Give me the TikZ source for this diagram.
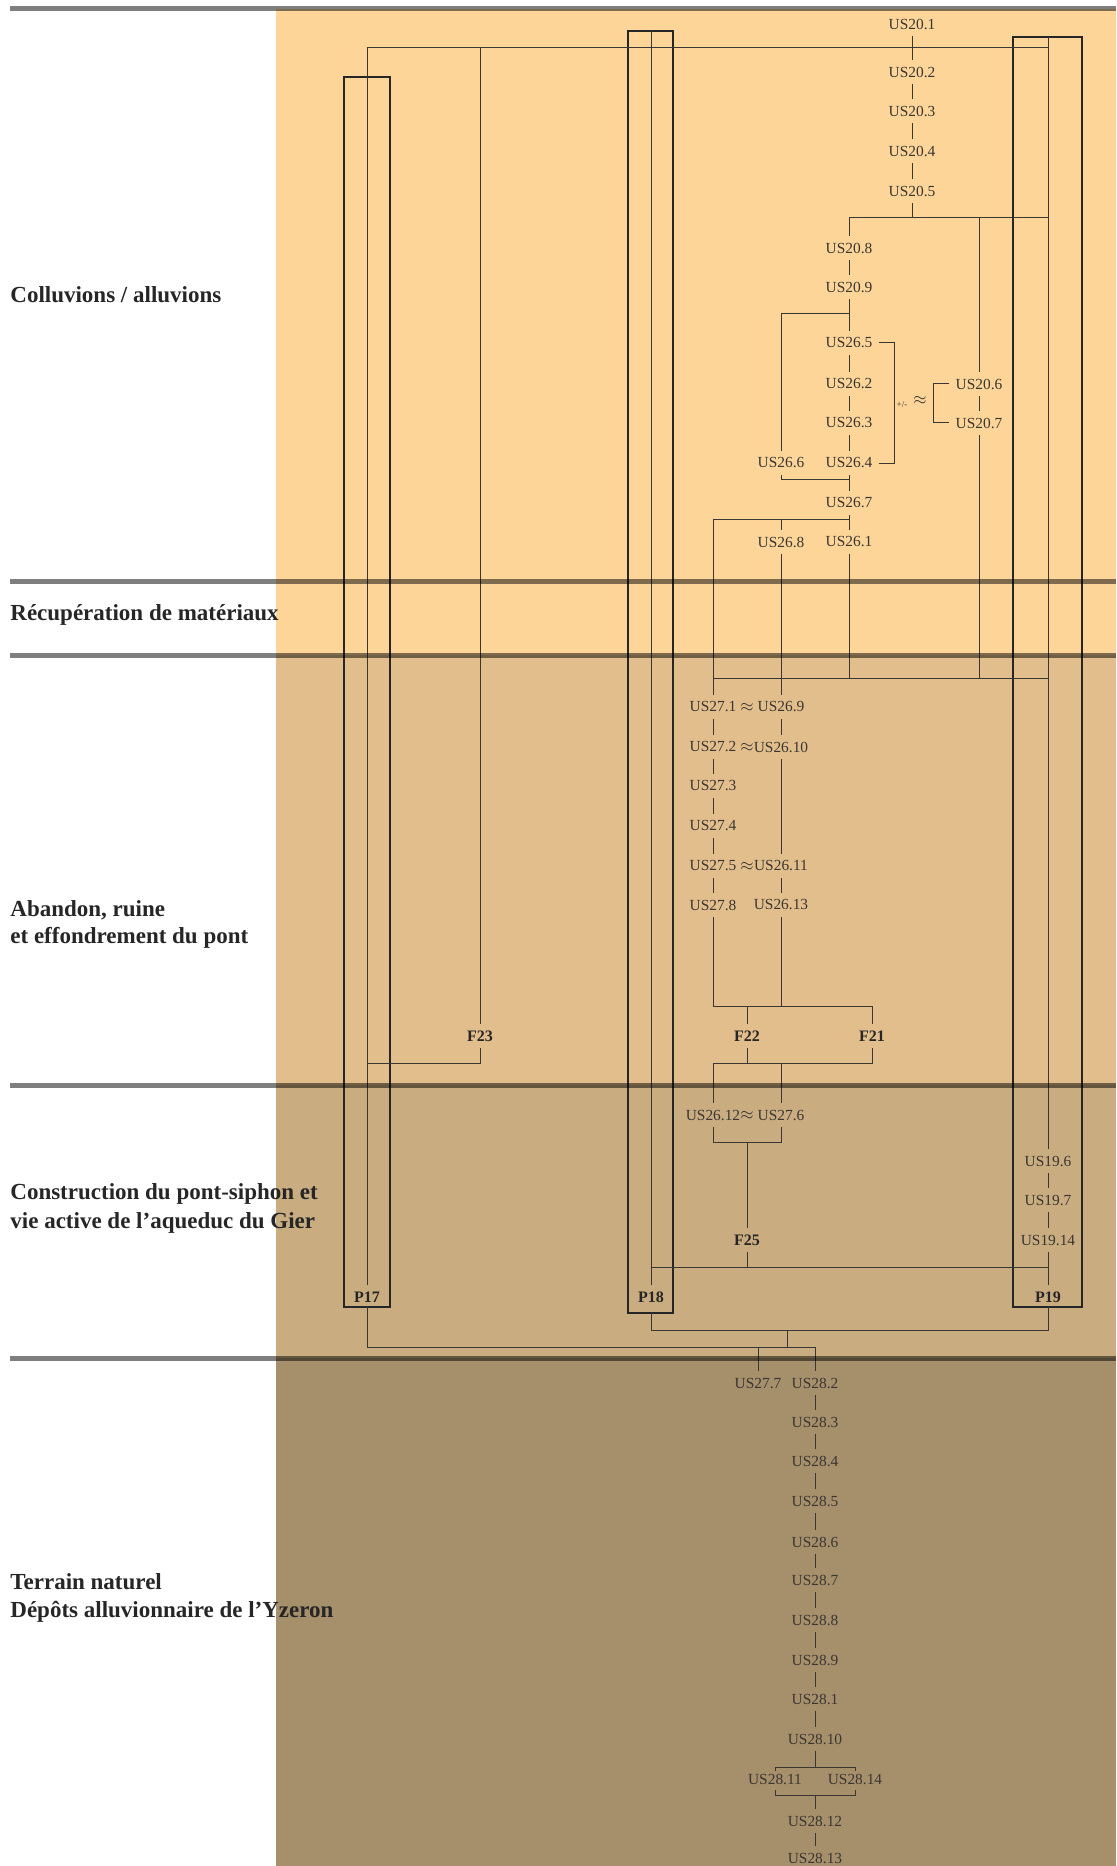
\documentclass[tikz,border=0pt]{standalone}
\usepackage{fontspec}
\setmainfont{Liberation Serif}
\usepackage{xcolor}
\definecolor{bandA}{RGB}{253,213,153}
\definecolor{bandB}{RGB}{225,190,140}
\definecolor{bandC}{RGB}{201,172,128}
\definecolor{bandD}{RGB}{166,143,107}
\definecolor{inkgray}{RGB}{58,54,50}

\begin{document}
\begin{tikzpicture}[x=0.5pt,y=-0.5pt,
  us/.style={font=\fontsize{7.7}{9}\selectfont,text=inkgray,inner sep=1pt,minimum height=11.5pt},
  feat/.style={font=\fontsize{8}{9}\selectfont\bfseries,text=black!85,inner sep=1pt,minimum height=12pt},
  phase/.style={font=\fontsize{11.5}{14}\selectfont\bfseries,text=black!85,anchor=base west,inner sep=0pt},
  sep/.style={line width=2.5pt,black,opacity=0.5},
  pbox/.style={line width=0.9pt,black!85},
  lnk/.style={line width=0.5pt,inkgray}]
\useasboundingbox (0,0) rectangle (1116,1866);
\fill[bandA] (276,9) rectangle (1116,655);
\fill[bandB] (276,655) rectangle (1116,1085);
\fill[bandC] (276,1085) rectangle (1116,1358);
\fill[bandD] (276,1358) rectangle (1116,1866);

\node[phase] (ph1) at (10,303) {Colluvions / alluvions};
\node[phase] (ph2) at (10,620) {Récupération de matériaux};
\node[phase] (ph3a) at (10,916) {Abandon, ruine};
\node[phase] (ph3b) at (10,943) {et effondrement du pont};
\node[phase] (ph4a) at (10,1199) {Construction du pont-siphon et};
\node[phase] (ph4b) at (10,1228) {vie active de l’aqueduc du Gier};
\node[phase] (ph5a) at (10,1589) {Terrain naturel};
\node[phase] (ph5b) at (10,1617) {Dépôts alluvionnaire de l’Yzeron};

\draw[pbox] (344,77) rectangle (390,1307);
\draw[pbox] (628,31) rectangle (673,1313);
\draw[pbox] (1013,37) rectangle (1082,1307);

\node[us] (us201) at (912,24) {US20.1};
\node[us] (us202) at (912,72) {US20.2};
\node[us] (us203) at (912,111) {US20.3};
\node[us] (us204) at (912,151) {US20.4};
\node[us] (us205) at (912,191) {US20.5};
\node[us] (us208) at (849,248) {US20.8};
\node[us] (us209) at (849,287) {US20.9};
\node[us] (us265) at (849,343) {US26.5};
\node[us] (us262) at (849,384) {US26.2};
\node[us] (us263) at (849,423) {US26.3};
\node[us] (us264) at (849,463) {US26.4};
\node[us] (us266) at (781,463) {US26.6};
\node[us] (us206) at (979,384) {US20.6};
\node[us] (us207) at (979,423) {US20.7};
\node[us] (us267) at (849,503) {US26.7};
\node[us] (us268) at (781,542) {US26.8};
\node[us] (us261) at (849,542) {US26.1};
\node[us,font=\fontsize{4.5}{5}\selectfont] (pm) at (902,405) {+/-};
\node[us] (apx0) at (920,401) {$\approx$};

\node[us] (us271) at (713,707) {US27.1};
\node[us] (apx1) at (747,707) {$\approx$};
\node[us] (us269) at (781,707) {US26.9};
\node[us] (us272) at (713,747) {US27.2};
\node[us] (apx2) at (747,747) {$\approx$};
\node[us] (us2610) at (781,747) {US26.10};
\node[us] (us273) at (713,786) {US27.3};
\node[us] (us274) at (713,826) {US27.4};
\node[us] (us275) at (713,866) {US27.5};
\node[us] (apx3) at (747,866) {$\approx$};
\node[us] (us2611) at (781,866) {US26.11};
\node[us] (us278) at (713,905) {US27.8};
\node[us] (us2613) at (781,905) {US26.13};

\node[feat] (f23) at (480,1036) {F23};
\node[feat] (f22) at (747,1036) {F22};
\node[feat] (f21) at (872,1036) {F21};
\node[us] (us2612) at (713,1115) {US26.12};
\node[us] (apx4) at (747,1115) {$\approx$};
\node[us] (us276) at (781,1115) {US27.6};
\node[feat] (f25) at (747,1240) {F25};
\node[us] (us196) at (1048,1161) {US19.6};
\node[us] (us197) at (1048,1200) {US19.7};
\node[us] (us1914) at (1048,1240) {US19.14};
\node[feat] (p17) at (367,1297) {P17};
\node[feat] (p18) at (651,1297) {P18};
\node[feat] (p19) at (1048,1297) {P19};

\node[us] (us277) at (758,1383) {US27.7};
\node[us] (us282) at (815,1383) {US28.2};
\node[us] (us283) at (815,1422) {US28.3};
\node[us] (us284) at (815,1461) {US28.4};
\node[us] (us285) at (815,1501) {US28.5};
\node[us] (us286) at (815,1542) {US28.6};
\node[us] (us287) at (815,1580) {US28.7};
\node[us] (us288) at (815,1620) {US28.8};
\node[us] (us289) at (815,1660) {US28.9};
\node[us] (us281) at (815,1699) {US28.1};
\node[us] (us2810) at (815,1739) {US28.10};
\node[us] (us2811) at (775,1779) {US28.11};
\node[us] (us2814) at (855,1779) {US28.14};
\node[us] (us2812) at (815,1821) {US28.12};
\node[us] (us2813) at (815,1858) {US28.13};

\coordinate (h31) at (0,31);
\coordinate (h37) at (0,37);
\coordinate (h48) at (0,48);
\coordinate (h218) at (0,218);
\coordinate (h314) at (0,314);
\coordinate (h479) at (0,479);
\coordinate (h519) at (0,519);
\coordinate (h678) at (0,678);
\coordinate (h1006) at (0,1006);
\coordinate (h1063) at (0,1063);
\coordinate (h1142) at (0,1142);
\coordinate (h1267) at (0,1267);
\coordinate (h1307) at (0,1307);
\coordinate (h1313) at (0,1313);
\coordinate (h1330) at (0,1330);
\coordinate (h1347) at (0,1347);
\coordinate (h1767) at (0,1767);
\coordinate (h1771) at (0,1771);
\coordinate (h1790) at (0,1790);
\coordinate (h1795) at (0,1795);
\coordinate (jP) at (787,1330);

\begin{scope}[lnk]
\draw (us201) -- (us202) -- (us203) -- (us204) -- (us205) -- (us205 |- h218);
\draw (p17 |- h48) -- (us196 |- h48);
\draw (p17 |- h48) -- (p17);
\draw (f23 |- h48) -- (f23) |- (p17 |- h1063);
\draw (p18 |- h31) -- (p18);
\draw (p19 |- h37) -- (us196);
\draw (us208) |- (us196 |- h218);
\draw (us206 |- h218) -- (us206) -- (us207) -- (us207 |- h678);
\draw (us208) -- (us209) -- (us265) -- (us262) -- (us263) -- (us264) -- (us267) -- (us261) -- (us261 |- h678);
\draw (us266) |- (us209 |- h314);
\draw (us266) |- (us264 |- h479);
\draw ([xshift=2pt]us265.east) -| ([xshift=10pt]us264.east) -- ([xshift=2pt]us264.east);
\draw ([xshift=-2pt]us206.west) -| ([xshift=-10pt]us207.west) -- ([xshift=-2pt]us207.west);
\draw (us267 |- h519) -| (us271);
\draw (us268 |- h519) -- (us268) -- (us269) -- (us2610) -- (us2611) -- (us2613) -- (us2613 |- h1006);
\draw (us271 |- h678) -- (us196 |- h678);
\draw (us271) -- (us272) -- (us273) -- (us274) -- (us275) -- (us278) |- (f21 |- h1006) -- (f21);
\draw (f22) -- (f22 |- h1006);
\draw (f21) |- (us2612 |- h1063) -- (us2612);
\draw (f22) -- (f22 |- h1063);
\draw (us276 |- h1063) -- (us276);
\draw (us2612) |- (us276 |- h1142) -- (us276);
\draw (f25 |- h1142) -- (f25) -- (f25 |- h1267);
\draw (p18 |- h1267) -- (us1914 |- h1267);
\draw (us196) -- (us197) -- (us1914) -- (p19);
\draw (p18 |- h1313) |- (p19 |- h1330) -- (p19 |- h1307);
\draw (jP) -- (jP |- h1347);
\draw (p17 |- h1307) |- (us282 |- h1347) -- (us282);
\draw (us277 |- h1347) -- (us277);
\draw (us282) -- (us283) -- (us284) -- (us285) -- (us286) -- (us287) -- (us288) -- (us289) -- (us281) -- (us2810) -- (us2810 |- h1767);
\draw (us2811 |- h1771) -- (us2811 |- h1767) -- (us2814 |- h1767) -- (us2814 |- h1771);
\draw (us2811 |- h1790) -- (us2811 |- h1795) -- (us2814 |- h1795) -- (us2814 |- h1790);
\draw (us2812 |- h1795) -- (us2812) -- (us2813);
\end{scope}

\draw[sep] (10,9) -- (1116,9);
\draw[sep] (10,581) -- (1116,581);
\draw[sep] (10,655) -- (1116,655);
\draw[sep] (10,1085) -- (1116,1085);
\draw[sep] (10,1358) -- (1116,1358);
\end{tikzpicture}
\end{document}
